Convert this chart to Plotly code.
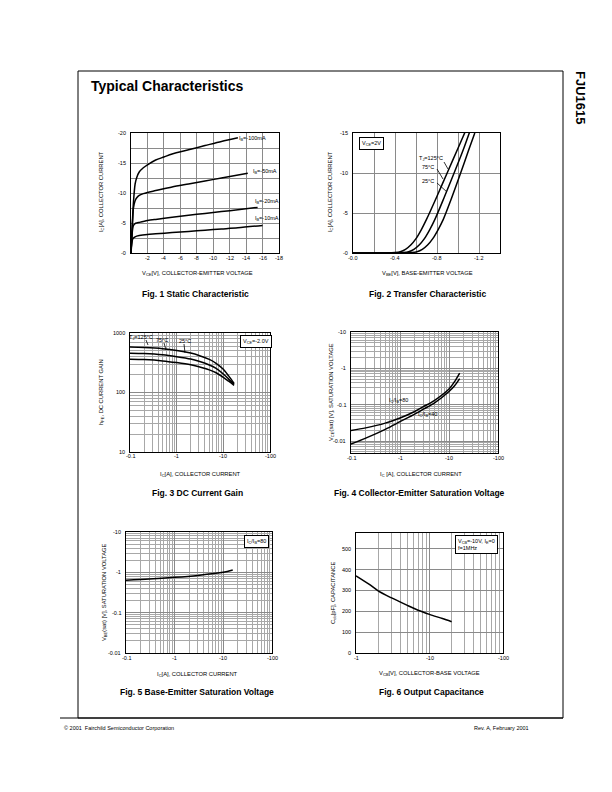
import math
import plotly.graph_objects as go

W, H = 612, 792
FONT = "Liberation Sans, Arial, sans-serif"

# ---------------- data ----------------
# Fig.1 static characteristic (V_CE [V], I_C [A])
vce_100 = [0, -0.1, -0.2, -0.3, -0.5, -0.7, -1.0, -1.5, -2, -3, -4, -5, -7, -9, -11, -13]
ic_100 = [0, -3.0, -6.0, -8.5, -11.5, -12.6, -13.5, -14.2, -14.7, -15.5, -16.0, -16.5, -17.2, -17.9, -18.6, -19.2]
vce_50 = [0, -0.1, -0.2, -0.3, -0.5, -0.7, -1, -1.5, -2, -3, -5, -7, -9, -11, -14.2]
ic_50 = [0, -3.0, -5.5, -7.5, -8.7, -9.2, -9.6, -9.9, -10.1, -10.4, -11.0, -11.5, -12.0, -12.5, -13.3]
vce_20 = [0, -0.1, -0.2, -0.3, -0.5, -0.7, -1, -2, -3, -5, -7, -9, -11, -13, -15.4]
ic_20 = [0, -2.5, -4.0, -4.6, -4.9, -5.0, -5.1, -5.4, -5.6, -5.95, -6.3, -6.6, -6.9, -7.2, -7.6]
vce_10 = [0, -0.1, -0.2, -0.3, -0.5, -1, -2, -3, -5, -7, -9, -11, -13, -16]
ic_10 = [0, -1.6, -2.3, -2.5, -2.7, -2.9, -3.1, -3.2, -3.4, -3.6, -3.8, -4.0, -4.2, -4.6]

# Fig.2 transfer characteristic (V_BE [V], I_C [A])
vbe_125 = [0, -0.3, -0.4, -0.45, -0.5, -0.55, -0.6, -0.65, -0.7, -0.8, -0.9, -1.0, -1.07]
ic_125 = [0, -0.01, -0.05, -0.15, -0.45, -1.0, -1.8, -2.9, -4.2, -7.1, -10.1, -13.1, -15.2]
vbe_75 = [0, -0.38, -0.48, -0.53, -0.58, -0.63, -0.68, -0.73, -0.78, -0.87, -0.96, -1.05, -1.11]
ic_75 = [0, -0.01, -0.05, -0.15, -0.45, -1.0, -1.8, -2.9, -4.2, -7.0, -9.9, -12.9, -15.1]
vbe_25 = [0, -0.46, -0.56, -0.61, -0.66, -0.71, -0.76, -0.81, -0.86, -0.94, -1.02, -1.10, -1.16]
ic_25 = [0, -0.01, -0.05, -0.15, -0.45, -1.0, -1.8, -2.9, -4.2, -6.9, -9.8, -12.8, -15.0]

# Fig.3 DC current gain (|I_C| [A], hFE)
ic3 = [0.1, 0.2, 0.5, 1, 2, 3, 5, 7, 10, 13, 17]
hfe_125 = [580, 570, 545, 510, 460, 420, 360, 310, 245, 190, 142]
hfe_75 = [458, 452, 430, 400, 365, 335, 290, 255, 205, 168, 138]
hfe_25 = [362, 357, 340, 318, 292, 270, 240, 215, 180, 155, 132]

# Fig.4 VCE(sat) (|I_C| [A], |V| )
ic4 = [0.1, 0.2, 0.5, 1, 2, 3, 5, 10, 13, 16.5]
vcesat_80 = [0.0195, 0.023, 0.031, 0.043, 0.065, 0.088, 0.13, 0.27, 0.43, 0.74]
vcesat_40 = [0.0082, 0.012, 0.021, 0.034, 0.055, 0.075, 0.11, 0.23, 0.33, 0.52]

# Fig.5 VBE(sat)
ic5 = [0.1, 0.3, 1, 3, 10, 15.6]
vbesat_80 = [0.64, 0.68, 0.75, 0.84, 1.0, 1.14]

# Fig.6 output capacitance (|V_CB| [V], Cob [pF])
vcb = [1, 1.5, 2, 3, 5, 7, 10, 15, 20]
cob = [370, 330, 298, 265, 228, 205, 185, 165, 150]

# tick labels
f1_xvals = [-2, -4, -6, -8, -10, -12, -14, -16, -18]
f1_xtext = ["-2", "-4", "-6", "-8", "-10", "-12", "-14", "-16", "-18"]
f1_yvals = [0, -5, -10, -15, -20]
f1_ytext = ["-0", "-5", "-10", "-15", "-20"]
f2_xvals = [0, -0.4, -0.8, -1.2]
f2_xtext = ["-0.0", "-0.4", "-0.8", "-1.2"]
f2_yvals = [0, -5, -10, -15]
f2_ytext = ["-0", "-5", "-10", "-15"]
dec_x_vals = [0.1, 1, 10, 100]
dec_x_text = ["-0.1", "-1", "-10", "-100"]
f3_yvals = [10, 100, 1000]
f3_ytext = ["10", "100", "1000"]
sat_yvals = [0.01, 0.1, 1, 10]
sat_ytext = ["-0.01", "-0.1", "-1", "-10"]
f6_xvals = [1, 10, 100]
f6_xtext = ["-1", "-10", "-100"]
f6_yvals = [0, 100, 200, 300, 400, 500]
f6_ytext = ["0", "100", "200", "300", "400", "500"]


def fx(p):
    return p / W


def fy(p):
    return 1 - p / H


def minor_log(lo_exp, hi_exp):
    vals = []
    for e in range(lo_exp, hi_exp):
        for m in range(2, 10):
            vals.append(m * 10 ** e)
    return vals


frames = {
    1: (131, 279, 133, 253),
    2: (353, 500, 133, 253),
    3: (130, 270, 333, 452),
    4: (351, 498, 332, 453),
    5: (126, 272, 532, 653),
    6: (356, 503, 533, 653),
}

fig = go.Figure()


def add(i, x, y, shape="spline"):
    ax = "x" if i == 1 else f"x{i}"
    ay = "y" if i == 1 else f"y{i}"
    fig.add_trace(go.Scatter(x=x, y=y, xaxis=ax, yaxis=ay, mode="lines",
                             line=dict(color="black", width=1.5, shape=shape, smoothing=0.8),
                             showlegend=False, hoverinfo="skip"))


add(1, vce_100, ic_100)
add(1, vce_50, ic_50)
add(1, vce_20, ic_20)
add(1, vce_10, ic_10)
add(2, vbe_125, ic_125)
add(2, vbe_75, ic_75)
add(2, vbe_25, ic_25)
add(3, ic3, hfe_125)
add(3, ic3, hfe_75)
add(3, ic3, hfe_25)
add(4, ic4, vcesat_80)
add(4, ic4, vcesat_40)
add(5, ic5, vbesat_80)
add(6, vcb, cob)

GRID = "#8a8a8a"
MINOR = "#a8a8a8"
base = dict(showline=True, mirror=True, linecolor="black", linewidth=1.3, ticks="",
            showticklabels=False, showgrid=True,
            gridcolor=GRID, gridwidth=0.9, zeroline=False, fixedrange=True)

axes = {}
annotations = []
TICKFONT = dict(size=5.5, color="black", family=FONT)


def setax(i, xcfg, ycfg, xticks, yticks):
    l, r, t, b = frames[i]
    xk = "xaxis" if i == 1 else f"xaxis{i}"
    yk = "yaxis" if i == 1 else f"yaxis{i}"
    ya = "y" if i == 1 else f"y{i}"
    xa = "x" if i == 1 else f"x{i}"
    axes[xk] = dict(base, domain=[fx(l), fx(r)], anchor=ya, **xcfg)
    axes[yk] = dict(base, domain=[fy(b), fy(t)], anchor=xa, **ycfg)
    xlog = xcfg.get("type") == "log"
    ylog = ycfg.get("type") == "log"
    axes[xk]["tickvals"] = xticks[0]
    axes[yk]["tickvals"] = yticks[0]
    for v, s in zip(*xticks):
        annotations.append(dict(x=(math.log10(v) if xlog else v), y=fy(b + 4.5), xref=xa, yref="paper",
                                text=s, showarrow=False, xanchor="center", yanchor="middle",
                                font=TICKFONT))
    for v, s in zip(*yticks):
        annotations.append(dict(x=fx(l - 3), y=(math.log10(v) if ylog else v), xref="paper", yref=ya,
                                text=s, showarrow=False, xanchor="right", yanchor="middle",
                                font=TICKFONT))


setax(1,
      dict(range=[0, -18]),
      dict(range=[0, -20],
           minor=dict(tickvals=[-2.5, -7.5, -12.5, -17.5], showgrid=True, gridcolor=GRID, gridwidth=0.9)),
      (f1_xvals, f1_xtext), (f1_yvals, f1_ytext))
setax(2,
      dict(range=[0, -1.4],
           minor=dict(tickvals=[-0.2, -0.6, -1.0], showgrid=True, gridcolor=GRID, gridwidth=0.9)),
      dict(range=[0, -15]),
      (f2_xvals, f2_xtext), (f2_yvals, f2_ytext))


def logx():
    return dict(type="log", range=[-1, 2],
                minor=dict(tickvals=minor_log(-1, 2), showgrid=True, gridcolor=MINOR, gridwidth=0.6))


setax(3, logx(),
      dict(type="log", range=[1, 3],
           minor=dict(tickvals=minor_log(1, 3), showgrid=True, gridcolor=MINOR, gridwidth=0.6)),
      (dec_x_vals, dec_x_text), (f3_yvals, f3_ytext))
setax(4, logx(),
      dict(type="log", range=[-2.33, 1],
           minor=dict(tickvals=minor_log(-3, 1), showgrid=True, gridcolor=MINOR, gridwidth=0.6)),
      (dec_x_vals, dec_x_text), (sat_yvals, sat_ytext))
setax(5, logx(),
      dict(type="log", range=[-2, 1],
           minor=dict(tickvals=minor_log(-2, 1), showgrid=True, gridcolor=MINOR, gridwidth=0.6)),
      (dec_x_vals, dec_x_text), (sat_yvals, sat_ytext))
setax(6,
      dict(type="log", range=[0, 2],
           minor=dict(tickvals=minor_log(0, 2), showgrid=True, gridcolor=MINOR, gridwidth=0.6)),
      dict(range=[0, 575]),
      (f6_xvals, f6_xtext), (f6_yvals, f6_ytext))


def ann(px, py, text, size=6, xanchor="center", yanchor="middle", bold=False, angle=0,
        color="black", box=False, align="center"):
    d = dict(x=fx(px), y=fy(py), xref="paper", yref="paper", text=(f"<b>{text}</b>" if bold else text),
             showarrow=False, xanchor=xanchor, yanchor=yanchor, textangle=angle, align=align,
             font=dict(size=size, color=color, family=FONT))
    if box:
        d.update(bordercolor="black", borderwidth=1, borderpad=2, bgcolor="white")
    annotations.append(d)


shapes = [
    dict(type="rect", xref="paper", yref="paper", x0=fx(78), x1=fx(563), y0=fy(718), y1=fy(71),
         line=dict(color="black", width=1)),
    dict(type="line", xref="paper", yref="paper", x0=fx(60), x1=fx(563), y0=fy(718), y1=fy(718),
         line=dict(color="black", width=1)),
]


def arrow(x0, y0, x1, y1):
    shapes.append(dict(type="line", xref="paper", yref="paper", x0=fx(x0), y0=fy(y0), x1=fx(x1), y1=fy(y1),
                       line=dict(color="black", width=0.8)))


# page texts
ann(89, 86, "Typical Characteristics", size=14, xanchor="left", bold=True)
ann(581, 97, "FJU1615", size=13, bold=True, angle=90)
ann(62, 728, "© 2001  Fairchild Semiconductor Corporation", size=5.5, xanchor="left")
ann(531, 728, "Rev. A, February 2001", size=5.5, xanchor="right")

# captions
ann(195, 294, "Fig. 1 Static Characteristic", size=8.5, bold=True)
ann(427, 294, "Fig. 2 Transfer Characteristic", size=8.5, bold=True)
ann(197, 493, "Fig. 3 DC Current Gain", size=8.5, bold=True)
ann(419, 493, "Fig. 4 Collector-Emitter Saturation Voltage", size=8.5, bold=True)
ann(197, 692, "Fig. 5 Base-Emitter Saturation Voltage", size=8.5, bold=True)
ann(431, 692, "Fig. 6 Output Capacitance", size=8.5, bold=True)

# axis titles
ann(197, 273, "V<sub>CE</sub>[V], COLLECTOR-EMITTER VOLTAGE", size=5.8)
ann(101, 192, "I<sub>C</sub>[A], COLLECTOR CURRENT", size=5.8, angle=-90)
ann(427, 273, "V<sub>BE</sub>[V], BASE-EMITTER VOLTAGE", size=5.8)
ann(330, 192, "I<sub>C</sub>[A], COLLECTOR CURRENT", size=5.8, angle=-90)
ann(200, 474, "I<sub>C</sub>[A], COLLECTOR CURRENT", size=5.8)
ann(101, 392, "h<sub>FE</sub>, DC CURRENT GAIN", size=5.8, angle=-90)
ann(421, 474, "I<sub>C</sub> [A], COLLECTOR CURRENT", size=5.8)
ann(331, 392, "V<sub>CE</sub>(sat) [V], SATURATION VOLTAGE", size=5.8, angle=-90)
ann(197, 674, "I<sub>C</sub>[A], COLLECTOR CURRENT", size=5.8)
ann(104, 592, "V<sub>BE</sub>(sat) [V], SATURATION VOLTAGE", size=5.8, angle=-90)
ann(430, 673, "V<sub>CB</sub>[V], COLLECTOR-BASE VOLTAGE", size=5.8)
ann(333, 593, "C<sub>ob</sub>[pF], CAPACITANCE", size=5.8, angle=-90)

# fig 1 curve labels
ann(237, 138, "I<sub>B</sub>=-100mA", size=5.5, xanchor="left")
ann(251, 171, "I<sub>B</sub>=-50mA", size=5.5, xanchor="left")
ann(253, 201, "I<sub>B</sub>=-20mA", size=5.5, xanchor="left")
ann(253, 218, "I<sub>B</sub>=-10mA", size=5.5, xanchor="left")

# fig 2
ann(372, 143, "V<sub>CE</sub>=2V", size=5.5, box=True)
ann(445, 159, "T<sub>J</sub>=125°C", size=5.5, xanchor="right")
ann(436, 167, "75°C", size=5.5, xanchor="right")
ann(436, 181, "25°C", size=5.5, xanchor="right")
arrow(444, 162, 448, 169)
arrow(437, 169, 443, 179)
arrow(437, 183, 447, 192)

# fig 3
ann(256, 341, "V<sub>CE</sub>=-2.0V", size=5.5, box=True)
ann(141, 337, "T<sub>J</sub>=125°C", size=5.5)
ann(162, 340, "75°C", size=5.5)
ann(185, 341, "25°C", size=5.5)
arrow(146, 340, 148, 345)
arrow(164, 343, 166, 350)
arrow(184, 344, 185, 353)

# fig 4
ann(398, 400, "I<sub>C</sub>/I<sub>B</sub>=80", size=5.5)
ann(427, 414, "I<sub>C</sub>/I<sub>B</sub>=40", size=5.5)

# fig 5
ann(256, 541, "I<sub>C</sub>/I<sub>B</sub>=80", size=5.5, box=True)

# fig 6
ann(476, 544, "V<sub>CB</sub>=-10V, I<sub>E</sub>=0<br>f=1MHz", size=5.5, box=True, align="left")

fig.update_layout(width=W, height=H, margin=dict(l=0, r=0, t=0, b=0), paper_bgcolor="white",
                  plot_bgcolor="white", showlegend=False, annotations=annotations, shapes=shapes,
                  font=dict(family=FONT), **axes)

fig.write_html("out.html", config={"displayModeBar": False},
               post_script="document.body.style.margin='0';document.body.style.overflow='hidden';")
